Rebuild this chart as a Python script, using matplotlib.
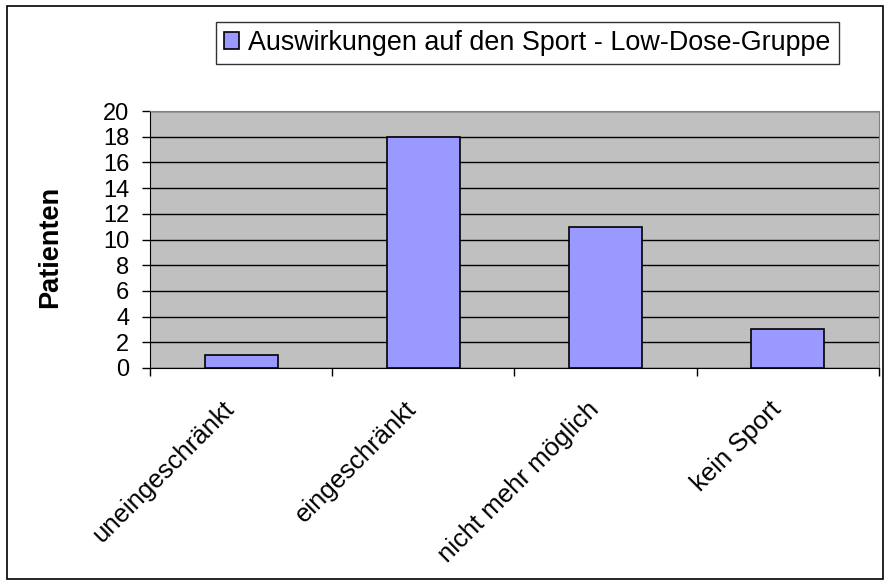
import matplotlib.pyplot as plt
from matplotlib.patches import Rectangle
from matplotlib.transforms import ScaledTranslation

categories = ["uneingeschränkt", "eingeschränkt", "nicht mehr möglich", "kein Sport"]
patients = [1, 18, 11, 3]
series_name = "Auswirkungen auf den Sport - Low-Dose-Gruppe"
y_ticks = list(range(0, 21, 2))

plt.rcParams["font.family"] = ["Liberation Sans", "DejaVu Sans"]

fig = plt.figure(figsize=(8.87, 5.85), dpi=100)
ax = fig.add_axes([150 / 887, 1 - 368 / 585, 729 / 887, 257 / 585])

ax.set_facecolor("#C0C0C0")
ax.set_axisbelow(True)
ax.yaxis.grid(True, color="black", linewidth=1)

x = list(range(len(categories)))
bars = ax.bar(x, patients, width=0.4, color="#9999FF", edgecolor="black",
              linewidth=1.2, label=series_name, zorder=3)

ax.set_xlim(-0.5, len(categories) - 0.5)
ax.set_ylim(0, 20)
ax.set_yticks(y_ticks)
ax.tick_params(axis="y", labelsize=17, direction="out", length=6, width=1, pad=9)

# category labels drawn by hand so they can sit like Excel's rotated labels
ax.set_xticks(x)
ax.set_xticklabels([])
ax.tick_params(axis="x", which="major", length=0)
ax.set_xticks([i - 0.5 for i in range(len(categories) + 1)], minor=True)
ax.tick_params(axis="x", which="minor", direction="out", length=6, width=1)
lab_tr = ax.get_xaxis_transform() + ScaledTranslation(-0.19, -0.29, fig.dpi_scale_trans)
for i, name in enumerate(categories):
    ax.text(i, 0, name, transform=lab_tr, rotation=45, ha="right", va="top",
            rotation_mode="anchor", fontsize=18.5)

for side in ["top", "right"]:
    ax.spines[side].set_color("#808080")
for side in ["left", "bottom"]:
    ax.spines[side].set_color("black")

ax.set_ylabel("Patienten", fontsize=19.5, fontweight="bold")
ax.yaxis.set_label_coords(-0.119, 0.47)

leg = fig.legend(handles=[bars], labels=[series_name], loc="upper left",
                 bbox_to_anchor=(216 / 887, 1 - 22 / 585), fontsize=19.4,
                 frameon=True, fancybox=False, edgecolor="black",
                 handlelength=0.55, handleheight=0.55, handletextpad=0.35,
                 borderpad=0.3, borderaxespad=0)
leg.get_frame().set_linewidth(1)

fig.patches.append(Rectangle((7 / 887, 6 / 585), 876 / 887, 573 / 585,
                             transform=fig.transFigure, fill=False,
                             edgecolor="black", linewidth=1.2))

fig.savefig("out.png", dpi=100)
